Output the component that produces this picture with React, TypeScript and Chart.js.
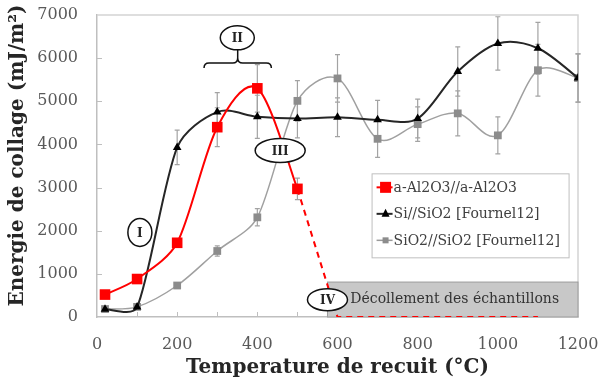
import React, { useEffect, useRef } from 'react';
import { Chart, registerables } from 'chart.js';

Chart.register(...registerables);

// ---------- data ----------
const temps = [20, 100, 200, 300, 400, 500, 600, 700, 800, 900, 1000, 1100, 1200];
const redTemps = [20, 100, 200, 300, 400, 500, 600, 700, 800, 900, 1000, 1100];
const redValues = [520, 880, 1720, 4400, 5300, 2970, 0, 0, 0, 0, 0, 0];
const redErrors = [0, 0, 0, 450, 550, 250, 0, 0, 0, 0, 0, 0];
const redSolidCount = 6; // points measured before the samples peeled off
const blackValues = [180, 230, 3930, 4750, 4640, 4600, 4630, 4570, 4600, 5690, 6340, 6230, 5540];
const blackErrors = [0, 0, 400, 450, 500, 450, 450, 450, 450, 570, 620, 600, 560];
const grayValues = [185, 235, 730, 1530, 2310, 5010, 5530, 4130, 4470, 4720, 4210, 5720, 5540];
const grayErrors = [0, 0, 0, 120, 200, 470, 550, 430, 400, 520, 430, 600, 560];

const seriesLabels = ['a-Al2O3//a-Al2O3', 'Si//SiO2 [Fournel12]', 'SiO2//SiO2 [Fournel12]'];
const xTitle = 'Temperature de recuit (°C)';
const yTitle = '   Energie de collage (mJ/m²)';
const zoneLabel = 'Décollement des échantillons';
const xMinorTicks = [100, 200, 300, 400, 500, 600, 700, 800, 900, 1000, 1100];
const yMinorTicks = [1000, 2000, 3000, 4000, 5000, 6000];

// ---------- annotation placement (data coordinates) ----------
const phases = [
  { label: 'I', x: 107, y: 1960, rx: 12, ry: 14 },
  { label: 'II', x: 350, y: 6470, rx: 17, ry: 12 },
  { label: 'III', x: 457, y: 3860, rx: 25, ry: 12 },
  { label: 'IV', x: 575, y: 400, rx: 20, ry: 11 },
];
const brace = { x0: 267, x1: 435, y: 5890 };
const zone = { x0: 575, x1: 1200, y0: 0, y1: 810, textX: 632, textY: 400 };
const legendAnchor = { x: 685, y: 3330 };

const SERIF = "'DejaVu Serif', serif";

// Spreadsheet-style smoothing: Catmull-Rom tangents, arms capped by segment length
const smoothing = {
  id: 'smoothing',
  beforeDatasetDraw(chart: any, args: any) {
    const meta = args.meta;
    const ds = chart.data.datasets[args.index];
    if (!ds.tension) return;
    meta.dataset.updateControlPoints(chart.chartArea, meta.iScale.axis);
    const pts = meta.data;
    const n = pts.length;
    for (let i = 0; i < n; i++) {
      const p = pts[i];
      const prev = pts[Math.max(i - 1, 0)];
      const next = pts[Math.min(i + 1, n - 1)];
      const tx = (next.x - prev.x) / 6;
      const ty = (next.y - prev.y) / 6;
      const tl = Math.hypot(tx, ty) || 1;
      const d01 = Math.hypot(p.x - prev.x, p.y - prev.y);
      const d12 = Math.hypot(next.x - p.x, next.y - p.y);
      const a1 = Math.min(tl, d01 / 3);
      const a2 = Math.min(tl, d12 / 3);
      p.cp1x = p.x - (tx / tl) * a1;
      p.cp1y = p.y - (ty / tl) * a1;
      p.cp2x = p.x + (tx / tl) * a2;
      p.cp2y = p.y + (ty / tl) * a2;
    }
  },
};

const overlay = {
  id: 'overlay',
  beforeDatasetsDraw(chart: any) {
    const { ctx, chartArea: a, scales } = chart;
    const x = scales.x;
    const y = scales.y;
    ctx.save();
    ctx.strokeStyle = '#d4d4d4';
    ctx.lineWidth = 1.5;
    ctx.beginPath();
    ctx.moveTo(a.left, a.top);
    ctx.lineTo(a.right, a.top);
    ctx.lineTo(a.right, a.bottom);
    ctx.stroke();
    ctx.strokeStyle = '#bfbfbf';
    ctx.lineWidth = 1;
    ctx.beginPath();
    xMinorTicks.forEach((v) => {
      const px = Math.round(x.getPixelForValue(v)) + 0.5;
      ctx.moveTo(px, a.bottom);
      ctx.lineTo(px, a.bottom - 5);
    });
    yMinorTicks.forEach((v) => {
      const py = Math.round(y.getPixelForValue(v)) + 0.5;
      ctx.moveTo(a.left, py);
      ctx.lineTo(a.left + 5, py);
    });
    ctx.stroke();
    const zx0 = x.getPixelForValue(zone.x0);
    const zx1 = x.getPixelForValue(zone.x1);
    const zy0 = y.getPixelForValue(zone.y0);
    const zy1 = y.getPixelForValue(zone.y1);
    ctx.fillStyle = '#c8c8c8';
    ctx.fillRect(zx0, zy1, zx1 - zx0, zy0 - zy1);
    ctx.strokeStyle = '#9c9c9c';
    ctx.lineWidth = 1;
    ctx.strokeRect(zx0, zy1, zx1 - zx0, zy0 - zy1);
    ctx.strokeStyle = '#a3a3a3';
    ctx.lineWidth = 1.2;
    const drawErr = (xs: number[], vs: number[], es: number[]) => {
      xs.forEach((t, i) => {
        const e = es[i];
        if (!e) return;
        const px = x.getPixelForValue(t);
        const top = y.getPixelForValue(vs[i] + e);
        const bot = y.getPixelForValue(vs[i] - e);
        ctx.beginPath();
        ctx.moveTo(px, top);
        ctx.lineTo(px, bot);
        ctx.moveTo(px - 2.5, top);
        ctx.lineTo(px + 2.5, top);
        ctx.moveTo(px - 2.5, bot);
        ctx.lineTo(px + 2.5, bot);
        ctx.stroke();
      });
    };
    drawErr(temps, grayValues, grayErrors);
    drawErr(temps, blackValues, blackErrors);
    drawErr(redTemps, redValues, redErrors);
    ctx.restore();
  },
  afterDraw(chart: any) {
    const { ctx, scales } = chart;
    const x = scales.x;
    const y = scales.y;
    ctx.save();
    const bx0 = x.getPixelForValue(brace.x0);
    const bx1 = x.getPixelForValue(brace.x1);
    const bxc = (bx0 + bx1) / 2;
    const by = y.getPixelForValue(brace.y);
    ctx.strokeStyle = '#111';
    ctx.lineWidth = 1.5;
    ctx.beginPath();
    ctx.moveTo(bx0, by + 5);
    ctx.quadraticCurveTo(bx0, by, bx0 + 5, by);
    ctx.lineTo(bxc - 5, by);
    ctx.quadraticCurveTo(bxc, by, bxc, by - 5);
    ctx.quadraticCurveTo(bxc, by, bxc + 5, by);
    ctx.lineTo(bx1 - 5, by);
    ctx.quadraticCurveTo(bx1, by, bx1, by + 5);
    ctx.moveTo(bxc, by - 5);
    const p2 = phases[1];
    ctx.lineTo(bxc, y.getPixelForValue(p2.y) + p2.ry);
    ctx.stroke();
    phases.forEach((p) => {
      const px = x.getPixelForValue(p.x);
      const py = y.getPixelForValue(p.y);
      ctx.beginPath();
      ctx.ellipse(px, py, p.rx, p.ry, 0, 0, Math.PI * 2);
      ctx.fillStyle = '#ffffff';
      ctx.fill();
      ctx.strokeStyle = '#111';
      ctx.lineWidth = 1.5;
      ctx.stroke();
      ctx.fillStyle = '#222';
      ctx.font = `bold 12px ${SERIF}`;
      ctx.textAlign = 'center';
      ctx.textBaseline = 'middle';
      ctx.fillText(p.label, px, py + 1);
    });
    ctx.fillStyle = '#333';
    ctx.font = `14px ${SERIF}`;
    ctx.textAlign = 'left';
    ctx.textBaseline = 'middle';
    ctx.fillText(zoneLabel, x.getPixelForValue(zone.textX), y.getPixelForValue(zone.textY));
    const lx = x.getPixelForValue(legendAnchor.x);
    const ly = y.getPixelForValue(legendAnchor.y);
    const lw = 197;
    const lh = 84;
    ctx.fillStyle = '#ffffff';
    ctx.fillRect(lx, ly, lw, lh);
    ctx.strokeStyle = '#bfbfbf';
    ctx.lineWidth = 1;
    ctx.strokeRect(lx + 0.5, ly + 0.5, lw, lh);
    const entries = [
      { label: seriesLabels[0], color: '#ff0000', marker: 'rect', size: 11, fill: '#ff0000', lw: 2 },
      { label: seriesLabels[1], color: '#262626', marker: 'triangle', size: 8, fill: '#000', lw: 2 },
      { label: seriesLabels[2], color: '#9a9a9a', marker: 'rect', size: 6, fill: '#8c8c8c', lw: 1.5 },
    ];
    ctx.font = `14px ${SERIF}`;
    entries.forEach((e, i) => {
      const ry = ly + 14 + i * 26.5;
      const sx = lx + 5;
      ctx.strokeStyle = e.color;
      ctx.lineWidth = e.lw;
      ctx.beginPath();
      ctx.moveTo(sx, ry);
      ctx.lineTo(sx + 16, ry);
      ctx.stroke();
      ctx.fillStyle = e.fill;
      const cx = sx + 9;
      if (e.marker === 'rect') {
        ctx.fillRect(cx - e.size / 2, ry - e.size / 2, e.size, e.size);
      } else {
        ctx.beginPath();
        ctx.moveTo(cx, ry - e.size / 2 - 1);
        ctx.lineTo(cx + e.size / 2, ry + e.size / 2 - 1);
        ctx.lineTo(cx - e.size / 2, ry + e.size / 2 - 1);
        ctx.closePath();
        ctx.fill();
      }
      ctx.fillStyle = '#404040';
      ctx.textAlign = 'left';
      ctx.textBaseline = 'middle';
      ctx.fillText(e.label, sx + 17, ry + 1);
    });
    ctx.restore();
  },
};

export default function App() {
  const ref = useRef<HTMLCanvasElement | null>(null);
  useEffect(() => {
    if (!ref.current) return;
    Chart.defaults.font.family = SERIF;
    const redSolid = redTemps.slice(0, redSolidCount).map((t, i) => ({ x: t, y: redValues[i] }));
    const redDashed = redTemps
      .slice(redSolidCount - 1)
      .map((t, i) => ({ x: t, y: redValues[i + redSolidCount - 1] }));
    const chart = new Chart(ref.current, {
      type: 'line',
      data: {
        datasets: [
          {
            label: seriesLabels[0],
            data: redSolid,
            borderColor: '#ff0000',
            backgroundColor: '#ff0000',
            borderWidth: 2,
            pointStyle: 'rect',
            pointRadius: 7.5,
            pointBorderWidth: 0,
            tension: 0.4,
          },
          {
            label: seriesLabels[0] + ' (peeled)',
            data: redDashed,
            borderColor: '#ff0000',
            borderWidth: 2,
            borderDash: [6, 5],
            pointRadius: 0,
            tension: 0,
          },
          {
            label: seriesLabels[1],
            data: temps.map((t, i) => ({ x: t, y: blackValues[i] })),
            borderColor: '#262626',
            backgroundColor: '#000000',
            borderWidth: 2,
            pointStyle: 'triangle',
            pointRadius: 5,
            pointBorderWidth: 0,
            tension: 0.4,
          },
          {
            label: seriesLabels[2],
            data: temps.map((t, i) => ({ x: t, y: grayValues[i] })),
            borderColor: '#a0a0a0',
            backgroundColor: '#8c8c8c',
            borderWidth: 1.5,
            pointStyle: 'rect',
            pointRadius: 5.5,
            pointBorderWidth: 0,
            tension: 0.4,
          },
        ],
      },
      options: {
        animation: false,
        responsive: true,
        maintainAspectRatio: false,
        layout: { padding: { left: 0, top: 15, right: 22, bottom: 0 } },
        plugins: { legend: { display: false }, tooltip: { enabled: false } },
        scales: {
          x: {
            type: 'linear',
            min: 0,
            max: 1200,
            grid: { display: false, drawTicks: true, tickLength: 18 },
            border: { display: true, color: '#bfbfbf', width: 1.5 },
            ticks: {
              stepSize: 200,
              color: '#595959',
              font: { size: 16 },
              padding: 0,
              maxRotation: 0,
              callback: (v: any) => String(v),
            },
            title: {
              display: true,
              text: xTitle,
              color: '#262626',
              font: { size: 20, weight: 'bold' },
              padding: { top: 0, bottom: 1 },
            },
            afterFit: (s: any) => {
              s.height = 64;
            },
          },
          y: {
            min: 0,
            max: 7000,
            grid: { display: false, drawTicks: true, tickLength: 19 },
            border: { display: true, color: '#bfbfbf', width: 1.5 },
            ticks: {
              stepSize: 1000,
              color: '#595959',
              font: { size: 16 },
              padding: 0,
              callback: (v: any) => String(v),
            },
            title: {
              display: true,
              text: yTitle,
              color: '#262626',
              font: { size: 20, weight: 'bold' },
              padding: { top: 6, bottom: 0 },
            },
            afterFit: (s: any) => {
              s.width = 97;
            },
          },
        },
      },
      plugins: [smoothing, overlay],
    });
    return () => chart.destroy();
  }, []);
  return (
    <div style={{ position: 'absolute', left: 0, top: 0, width: 600, height: 381, background: '#fff' }}>
      <canvas ref={ref} />
    </div>
  );
}
